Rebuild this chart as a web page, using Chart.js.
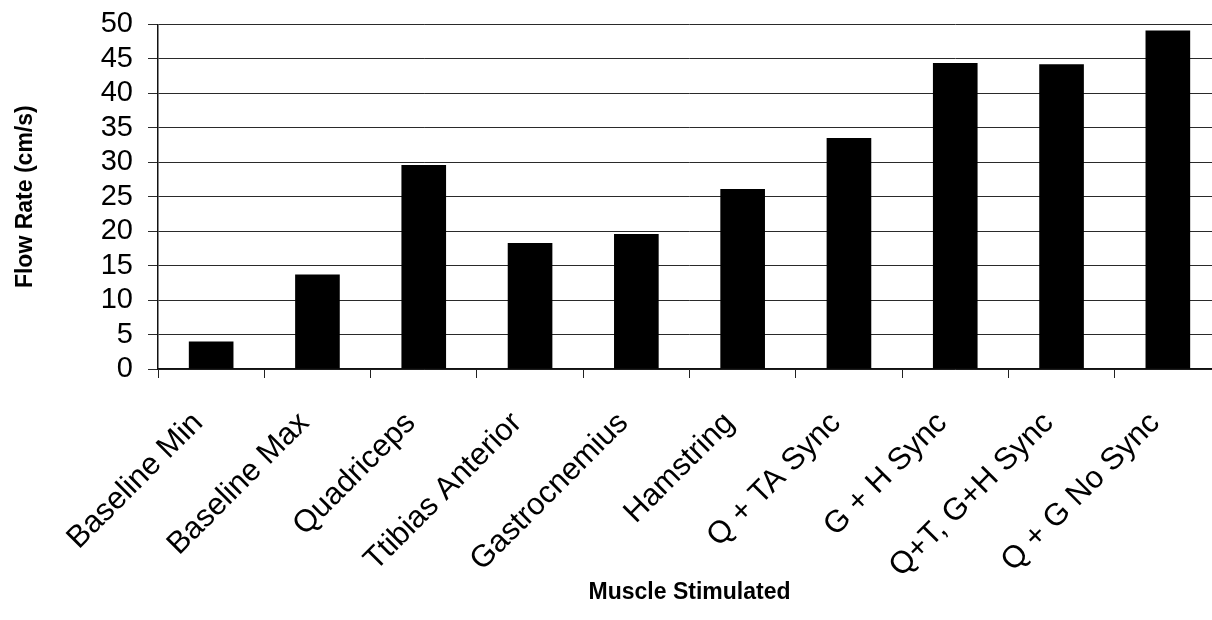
<!DOCTYPE html>
<html>
<head>
<meta charset="utf-8">
<title>Flow Rate by Muscle Stimulated</title>
<script src="https://cdn.jsdelivr.net/npm/chart.js@4.4.0/dist/chart.umd.min.js"></script>
<style>
    html, body { margin: 0; padding: 0; background: #ffffff; overflow: hidden; }
    /* slightly larger than the window so the plot runs off the right edge like the scan */
    #chartWrap { position: absolute; left: 0; top: -8px; width: 1232px; height: 628px; }
</style>
</head>
<body>
<div id="chartWrap"><canvas id="flowChart"></canvas></div>
<script>
// Chart data
const muscleLabels = [
    "Baseline Min", "Baseline Max", "Quadriceps", "Ttibias Anterior", "Gastrocnemius",
    "Hamstring", "Q + TA Sync", "G + H Sync", "Q+T, G+H Sync", "Q + G No Sync"
];
const flowRates = [4.0, 13.7, 29.6, 18.3, 19.6, 26.1, 33.5, 44.4, 44.2, 49.1];
const yTicks = [0, 5, 10, 15, 20, 25, 30, 35, 40, 45, 50];

const fontFamily = "'Liberation Sans', Arial, Helvetica, sans-serif";

// Function to create the bar chart
function createFlowChart(chartId) {
    const ctx = document.getElementById(chartId).getContext('2d');
    return new Chart(ctx, {
        type: 'bar',
        data: {
            labels: muscleLabels,
            datasets: [
                {
                    label: "Flow Rate",
                    data: flowRates,
                    backgroundColor: "#000000",
                    borderWidth: 0,
                    categoryPercentage: 1.0,
                    barPercentage: 0.42
                }
            ]
        },
        options: {
            responsive: true,
            maintainAspectRatio: false,
            animation: false,
            layout: { padding: { top: 0, right: 11, left: 0, bottom: 0 } },
            plugins: {
                legend: { display: false },
                tooltip: { enabled: false }
            },
            scales: {
                x: {
                    grid: {
                        drawOnChartArea: false,
                        drawTicks: true,
                        tickLength: 9,
                        color: "#222222",
                        lineWidth: 1
                    },
                    border: { display: true, color: "#111111", width: 1.5 },
                    ticks: {
                        color: "#000000",
                        font: { family: fontFamily, size: 31 },
                        minRotation: 45,
                        maxRotation: 45,
                        autoSkip: false,
                        labelOffset: -13,
                        padding: 27
                    },
                    title: {
                        display: true,
                        text: "Muscle Stimulated",
                        color: "#000000",
                        font: { family: fontFamily, size: 23, weight: 'bold' },
                        padding: { top: 0, bottom: 14 }
                    },
                    afterFit: (scale) => { scale.height = 251; }
                },
                y: {
                    min: 0,
                    max: 50,
                    afterBuildTicks: (scale) => {
                        scale.ticks = yTicks.map(v => ({ value: v }));
                    },
                    grid: {
                        color: "#2a2a2a",
                        lineWidth: 1,
                        drawTicks: true,
                        tickLength: 10
                    },
                    border: { display: true, color: "#111111", width: 1.5 },
                    ticks: {
                        color: "#000000",
                        font: { family: fontFamily, size: 29 },
                        autoSkip: false,
                        padding: 15
                    },
                    title: {
                        display: true,
                        text: "Flow Rate (cm/s)",
                        color: "#000000",
                        font: { family: fontFamily, size: 23, weight: 'bold' },
                        padding: { top: 12, bottom: 0 }
                    },
                    afterFit: (scale) => { scale.width = 158; }
                }
            }
        }
    });
}

createFlowChart('flowChart');
</script>
</body>
</html>
